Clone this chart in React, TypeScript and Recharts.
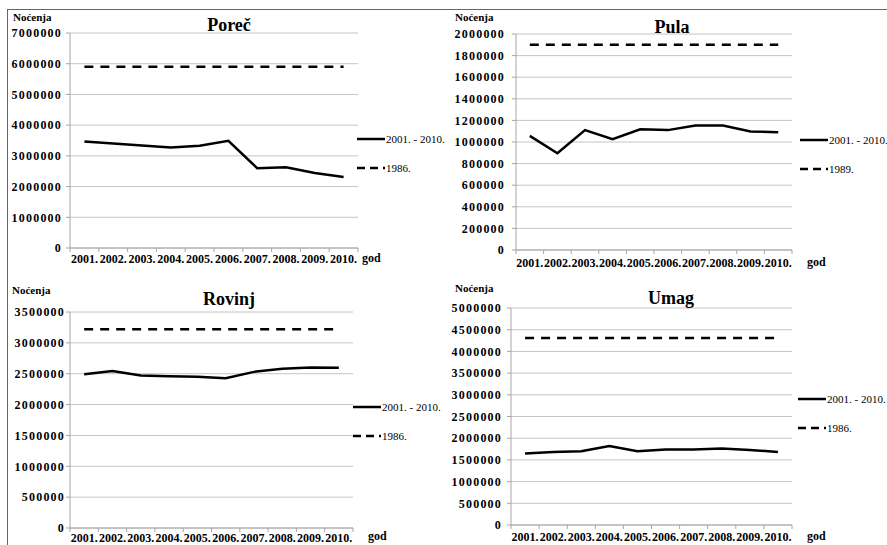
import React from 'react';
import { LineChart, Line, XAxis, YAxis, CartesianGrid, Legend } from 'recharts';

const years = ['2001.', '2002.', '2003.', '2004.', '2005.', '2006.', '2007.', '2008.', '2009.', '2010.'];
const currentName = '2001. - 2010.';

const porecValues = [3470000, 3400000, 3340000, 3270000, 3330000, 3490000, 2600000, 2630000, 2440000, 2310000];
const porecBaseline = 5900000;
const porecBaseName = '1986.';
const porecTicks = [0, 1000000, 2000000, 3000000, 4000000, 5000000, 6000000, 7000000];

const pulaValues = [1057000, 896000, 1110000, 1026000, 1117000, 1110000, 1152000, 1152000, 1097000, 1091000];
const pulaBaseline = 1900000;
const pulaBaseName = '1989.';
const pulaTicks = [0, 200000, 400000, 600000, 800000, 1000000, 1200000, 1400000, 1600000, 1800000, 2000000];

const rovinjValues = [2490000, 2545000, 2470000, 2460000, 2450000, 2425000, 2530000, 2580000, 2600000, 2595000];
const rovinjBaseline = 3220000;
const rovinjBaseName = '1986.';
const rovinjTicks = [0, 500000, 1000000, 1500000, 2000000, 2500000, 3000000, 3500000];

const umagValues = [1650000, 1680000, 1700000, 1820000, 1700000, 1740000, 1740000, 1760000, 1730000, 1680000];
const umagBaseline = 4310000;
const umagBaseName = '1986.';
const umagTicks = [0, 500000, 1000000, 1500000, 2000000, 2500000, 3000000, 3500000, 4000000, 4500000, 5000000];

const yLabel = 'Noćenja';
const xLabel = 'god';

const FONT = "'Liberation Serif', 'DejaVu Serif', serif";
const GRID = '#c4c4c4';
const AXIS = '#a6a6a6';

function XTick(props: any) {
  const { x, y, payload, index, step, tickSize, tickMargin, count } = props;
  const axisY = y - tickSize - tickMargin;
  return (
    <g>
      <line x1={x - step / 2} x2={x - step / 2} y1={axisY} y2={axisY + 4} stroke={AXIS} />
      {index === count - 1 && (
        <line x1={x + step / 2} x2={x + step / 2} y1={axisY} y2={axisY + 4} stroke={AXIS} />
      )}
      <text
        x={x}
        y={y}
        dy="0.71em"
        textAnchor="middle"
        fontSize={12}
        fontWeight="bold"
        fill="#000"
        style={{ fontFamily: FONT }}
      >
        {payload.value}
      </text>
    </g>
  );
}

function LegendContent(props: any) {
  const payload = [...(props.payload || [])];
  payload.sort((a: any, b: any) => (a.dataKey === 'current' ? 0 : 1) - (b.dataKey === 'current' ? 0 : 1));
  return (
    <div>
      {payload.map((entry: any, i: number) => {
        const dashed = entry.dataKey !== 'current';
        return (
          <div key={i} style={{ display: 'flex', alignItems: 'center', height: 29, whiteSpace: 'nowrap' }}>
            <svg width={28} height={6} style={{ display: 'block' }}>
              <line x1={0} x2={28} y1={3} y2={3} stroke="#000" strokeWidth={2.5} strokeDasharray={dashed ? '8 5' : undefined} />
            </svg>
            <span style={{ fontSize: 11, color: '#000', marginLeft: 1, fontFamily: FONT }}>{entry.value}</span>
          </div>
        );
      })}
    </div>
  );
}

type PanelProps = {
  left: number;
  top: number;
  width: number;
  height: number;
  marginTop: number;
  marginRight: number;
  yWidth: number;
  xHeight: number;
  yTickMargin: number;
  xTickMargin: number;
  values: number[];
  baseline: number;
  baseName: string;
  ticks: number[];
  title: string;
  titleX: number;
  titleY: number;
  nocX: number;
  nocY: number;
  godX: number;
  godY: number;
  legendX: number;
  legendY: number;
};

function Panel(p: PanelProps) {
  const data = years.map((yr, i) => ({ year: yr, current: p.values[i], base: p.baseline }));
  const plotWidth = p.width - p.yWidth - p.marginRight;
  const step = plotWidth / years.length;
  const tickSize = 4;
  return (
    <>
      <div style={{ position: 'absolute', left: p.left, top: p.top }}>
        <LineChart
          width={p.width}
          height={p.height}
          data={data}
          margin={{ top: p.marginTop, right: p.marginRight, bottom: 0, left: 0 }}
        >
          <CartesianGrid vertical={false} stroke={GRID} />
          <XAxis
            dataKey="year"
            height={p.xHeight}
            interval={0}
            padding={{ left: step / 2, right: step / 2 }}
            tickLine={false}
            tickSize={tickSize}
            tickMargin={p.xTickMargin}
            stroke={AXIS}
            tick={(tp: any) => (
              <XTick {...tp} step={step} tickSize={tickSize} tickMargin={p.xTickMargin} count={years.length} />
            )}
          />
          <YAxis
            width={p.yWidth}
            domain={[0, p.ticks[p.ticks.length - 1]]}
            ticks={p.ticks}
            interval={0}
            tickSize={4}
            tickMargin={p.yTickMargin}
            stroke={AXIS}
            tick={{ fontSize: 12, fontWeight: 'bold', fill: '#000', letterSpacing: 1.2, style: { fontFamily: FONT } }}
          />
          <Legend
            layout="horizontal"
            verticalAlign="middle"
            align="center"
            wrapperStyle={{ left: p.legendX - p.left, top: p.legendY - p.top - 14, width: 110, height: 60 }}
            content={<LegendContent />}
          />
          <Line
            dataKey="current"
            name={currentName}
            stroke="#000"
            strokeWidth={2.5}
            dot={false}
            isAnimationActive={false}
          />
          <Line
            dataKey="base"
            name={p.baseName}
            stroke="#000"
            strokeWidth={2.5}
            strokeDasharray="9 7"
            dot={false}
            isAnimationActive={false}
          />
        </LineChart>
      </div>
      <div
        style={{
          position: 'absolute',
          left: p.titleX,
          top: p.titleY,
          transform: 'translate(-50%, -50%)',
          fontSize: 18,
          fontWeight: 'bold',
          whiteSpace: 'nowrap',
          fontFamily: FONT,
        }}
      >
        {p.title}
      </div>
      <div
        style={{
          position: 'absolute',
          left: p.nocX,
          top: p.nocY,
          transform: 'translateY(-50%)',
          fontSize: 11,
          fontWeight: 'bold',
          whiteSpace: 'nowrap',
          fontFamily: FONT,
        }}
      >
        {yLabel}
      </div>
      <div
        style={{
          position: 'absolute',
          left: p.godX,
          top: p.godY,
          transform: 'translateY(-50%)',
          fontSize: 12,
          fontWeight: 'bold',
          whiteSpace: 'nowrap',
          fontFamily: FONT,
        }}
      >
        {xLabel}
      </div>
    </>
  );
}

export default function App() {
  return (
    <div
      style={{
        position: 'absolute',
        left: 0,
        top: 0,
        width: 887,
        height: 545,
        background: '#fff',
        overflow: 'hidden',
        fontFamily: FONT,
        color: '#000',
      }}
    >
      <Panel
        left={0}
        top={0}
        width={440}
        height={270}
        marginTop={33}
        marginRight={82}
        yWidth={70}
        xHeight={22}
        yTickMargin={4}
        xTickMargin={2}
        values={porecValues}
        baseline={porecBaseline}
        baseName={porecBaseName}
        ticks={porecTicks}
        title="Poreč"
        titleX={229}
        titleY={25}
        nocX={13}
        nocY={17}
        godX={362}
        godY={258}
        legendX={357}
        legendY={138}
      />
      <Panel
        left={440}
        top={0}
        width={447}
        height={270}
        marginTop={34}
        marginRight={95}
        yWidth={76}
        xHeight={20}
        yTickMargin={7}
        xTickMargin={4}
        values={pulaValues}
        baseline={pulaBaseline}
        baseName={pulaBaseName}
        ticks={pulaTicks}
        title="Pula"
        titleX={672}
        titleY={27}
        nocX={455}
        nocY={17}
        godX={807}
        godY={262}
        legendX={800}
        legendY={139}
      />
      <Panel
        left={0}
        top={270}
        width={440}
        height={275}
        marginTop={42}
        marginRight={87}
        yWidth={70}
        xHeight={17}
        yTickMargin={1}
        xTickMargin={1}
        values={rovinjValues}
        baseline={rovinjBaseline}
        baseName={rovinjBaseName}
        ticks={rovinjTicks}
        title="Rovinj"
        titleX={229}
        titleY={299}
        nocX={12}
        nocY={290}
        godX={368}
        godY={536}
        legendX={353}
        legendY={406}
      />
      <Panel
        left={440}
        top={270}
        width={447}
        height={275}
        marginTop={38}
        marginRight={95}
        yWidth={71}
        xHeight={20}
        yTickMargin={5}
        xTickMargin={3}
        values={umagValues}
        baseline={umagBaseline}
        baseName={umagBaseName}
        ticks={umagTicks}
        title="Umag"
        titleX={671}
        titleY={298}
        nocX={455}
        nocY={288}
        godX={807}
        godY={536}
        legendX={798}
        legendY={398}
      />
      <div style={{ position: 'absolute', left: 7, top: 9, right: 0, height: 1, background: '#666' }} />
      <div style={{ position: 'absolute', left: 7, top: 9, bottom: 0, width: 1, background: '#666' }} />
    </div>
  );
}
